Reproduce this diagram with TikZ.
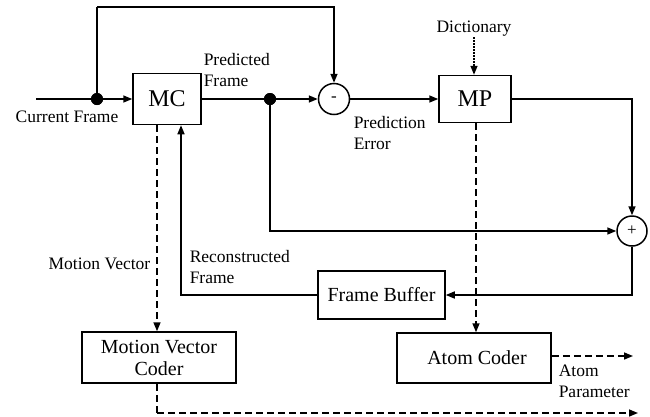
\documentclass[tikz,border=0pt]{standalone}
\usepackage{fontspec}
\setmainfont{Liberation Serif}
\usetikzlibrary{arrows.meta,calc}
\begin{document}
\begin{tikzpicture}[x=1pt,y=-1pt,
  line width=1.5pt,
  tip/.style={-{Triangle[length=9pt,width=7pt]}},
  block/.style={draw,rectangle,inner sep=0pt,align=center,font=\fontsize{20}{22}\selectfont},
  bigblock/.style={draw,rectangle,inner sep=0pt,font=\fontsize{24}{26}\selectfont},
  junction/.style={draw,circle,inner sep=0pt,minimum size=31pt,font=\fontsize{17}{18}\selectfont},
  dot/.style={circle,fill,inner sep=0pt,minimum size=12pt},
  lbl/.style={inner sep=0pt,align=left,font=\fontsize{17.5}{21}\selectfont},
  dashline/.style={dash pattern=on 7pt off 4pt},
  dotline/.style={dash pattern=on 1.5pt off 1.5pt}]
\useasboundingbox (0,0) rectangle (650,416);

% blocks
\node[bigblock,minimum width=68pt,minimum height=51pt] (mc) at (167,99) {MC};
\node[bigblock,minimum width=72pt,minimum height=47pt] (mp) at (475,99) {MP};
\node[junction] (sub) at (334,99) {-};
\node[junction,minimum size=30pt] (add) at (632,231) {+};
\node[block,minimum width=127pt,minimum height=48pt] (fb) at (381.5,295) {Frame Buffer};
\node[block,minimum width=154pt,minimum height=51pt] (mvc) at (159,357.5) {Motion Vector\\Coder};
\node[block,minimum width=154pt,minimum height=50pt] (ac) at (474,358) {\hspace*{6pt}Atom Coder};

% branch points
\node[dot] (d1) at (97,99) {};
\node[dot] (d2) at (270,99) {};

% free ends
\coordinate (in) at (36,99);
\coordinate (topl) at (97,7);
\coordinate (mvout) at (638,413);
\coordinate (acout) at (633,356);

% labels
\node[lbl] (dict) at (474,29) {Dictionary};
\node[lbl,anchor=center] (lcur) at (67,117) {Current Frame};
\node[lbl,anchor=west] (lpred) at (203,70) {Predicted\\Frame};
\node[lbl,anchor=west] (lerr) at (353,133) {Prediction\\Error};
\node[lbl,anchor=east] (lmv) at (151,264) {Motion Vector};
\node[lbl,anchor=west] (lrec) at (189,267) {Reconstructed\\Frame};
\node[lbl,anchor=west] (lap) at (558,381) {Atom\\Parameter};

% main signal path
\draw (in) -- (d1.center);
\draw[tip] (d1.center) -- (mc.west);
\draw (d1.center) -- (topl);
\draw[tip] (topl) -| (sub.north);
\draw[tip] (mc.east) -- (sub.west);
\draw[tip] (sub.east) -- (mp.west);
\draw[tip,dotline] (dict.south) -- (dict.south |- mp.north);
\draw[tip] (mp.east) -| (add.north);
\draw[tip] (d2.center) |- (add.west);
\draw[tip] (add.south) |- (fb.east);
\draw[tip] (fb.west) -| ([xshift=14pt]mc.south);

% coded side information
\draw[tip,dashline] ([xshift=-10pt]mc.south) -- ([xshift=-10pt]mc.south |- mvc.north);
\draw[dashline] ([xshift=-2pt]mvc.south) -- ([xshift=-2pt]mvc.south |- mvout);
\draw[tip,dashline] ([xshift=-2pt]mvc.south |- mvout) -- (mvout);
\draw[tip,dashline] ([xshift=1pt]mp.south) -- ([xshift=1pt]mp.south |- ac.north);
\draw[tip,dashline] (ac.east |- acout) -- (acout);

% redraw branch points over the lines
\fill (d1) circle (6pt);
\fill (d2) circle (6pt);
\end{tikzpicture}
\end{document}
